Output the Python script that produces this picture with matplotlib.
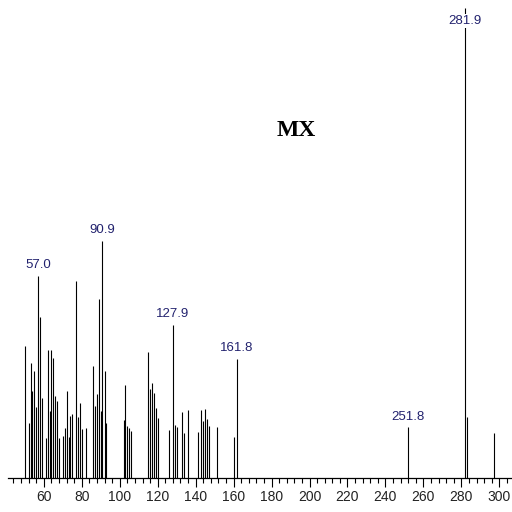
import matplotlib

matplotlib.use("Agg")
import matplotlib.pyplot as plt
from matplotlib.ticker import MultipleLocator

# peak positions (m/z) and relative abundance (%)
mz = [
    50, 52, 53, 54, 55, 56, 57.0, 58, 59, 61, 62, 63, 64, 65, 66, 67, 68,
    70, 71, 72, 73, 74, 75, 77, 78, 79, 80, 82,
    86, 87, 88, 89, 90, 90.9, 92, 93,
    102, 103, 104, 105, 106,
    115, 116, 117, 118, 119, 120,
    126, 127.9, 129, 130, 133, 134, 136,
    141, 143, 144, 145, 146, 147, 151, 160, 161.8,
    251.8, 281.9, 283, 297,
]
abundance = [
    28.1, 11.8, 24.5, 18.5, 22.8, 15.1, 43.0, 34.3, 17.0, 8.5, 27.2, 14.3, 27.2, 25.5, 17.4, 16.4, 8.5,
    8.9, 10.7, 18.5, 8.7, 13.2, 13.6, 42.0, 12.9, 16.0, 10.4, 10.6,
    23.8, 15.3, 17.9, 38.1, 14.3, 50.5, 22.7, 11.7,
    12.3, 19.7, 11.0, 10.7, 10.0,
    26.9, 18.9, 20.3, 18.1, 15.0, 12.8,
    10.2, 32.6, 11.3, 10.9, 14.1, 9.5, 14.4,
    9.7, 14.4, 12.2, 14.7, 12.6, 11.1, 10.8, 8.7, 25.4,
    10.8, 100.0, 12.9, 9.5,
]
labelled = [57.0, 90.9, 127.9, 161.8, 251.8, 281.9]
title = "MX"

fig = plt.figure(figsize=(5.12, 5.12), dpi=100)
ax = fig.add_axes([0.0156, 0.0664, 0.9844, 0.9176])

ax.vlines(mz, 0, abundance, color="black", linewidth=0.8)

for x, h in zip(mz, abundance):
    if x not in labelled:
        continue
    y = min(h + 1.0, 96.0)
    ax.text(x, y, f"{x:.1f}", ha="center", va="bottom", fontsize=9.5,
            family="Liberation Sans", color="#22226e",
            bbox=dict(facecolor="white", edgecolor="none", pad=0.5))

ax.text(193, 74, title, ha="center", va="center", fontsize=17,
        fontweight="bold", family="Liberation Serif", color="black")

ax.set_xlim(41.1, 306.7)
ax.set_ylim(0, 100)
ax.xaxis.set_major_locator(MultipleLocator(20))
ax.xaxis.set_minor_locator(MultipleLocator(4))
ax.tick_params(axis="x", which="major", direction="out", length=6.5, width=0.8, pad=2,
               labelsize=10, labelcolor="#222222")
ax.tick_params(axis="x", which="minor", direction="out", length=3.6, width=0.8)
for lbl in ax.get_xticklabels():
    lbl.set_family("Liberation Sans")
ax.set_yticks([])
for side in ["top", "right", "left"]:
    ax.spines[side].set_visible(False)
ax.spines["bottom"].set_linewidth(0.9)

fig.savefig("out.png", dpi=100, facecolor="white")
